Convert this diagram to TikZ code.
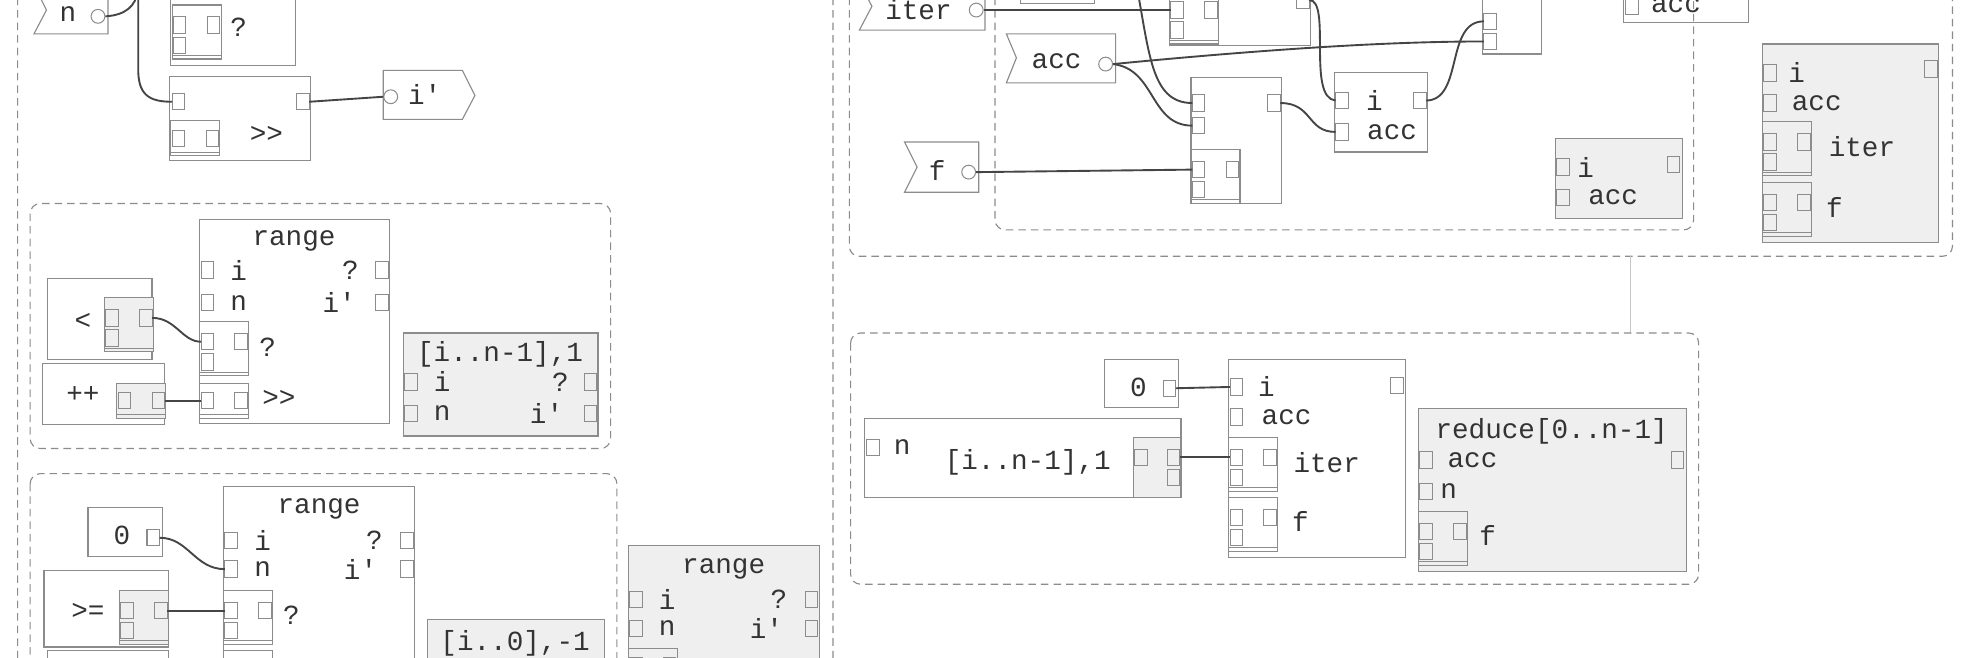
\documentclass[tikz,border=0pt]{standalone}
\usepackage{fontspec}
\setmainfont{Liberation Mono}[Ligatures=TeXOff]
\definecolor{boxc}{HTML}{8C8C8C}
\definecolor{gfill}{HTML}{EFEFEF}
\definecolor{txt}{HTML}{333333}
\definecolor{wirec}{HTML}{454545}
\newcommand\sbx[4][]{\begin{scope}[shift={(#3,#4)}]\draw[box,#1] (0,0) rectangle (39,43);\draw[boxc,line width=0.6pt] (0,40)--(39,40);\node[port] (#2a) at (6,16) {};\node[port] (#2b) at (6,32) {};\node[port] (#2c) at (33,16) {};\end{scope}}
\newcommand\sbxb[4][]{\begin{scope}[shift={(#3,#4)}]\draw[box,#1] (0,0) rectangle (39,28);\draw[boxc,line width=0.6pt] (0,25)--(39,25);\node[port] (#2a) at (6,14) {};\node[port] (#2c) at (33,14) {};\end{scope}}
\begin{document}
\begin{tikzpicture}[x=1pt,y=-1pt,font=\fontsize{22}{24}\selectfont,
 every node/.style={text=txt,inner sep=0pt},
 box/.style={draw=boxc,line width=0.9pt},
 gbox/.style={draw=boxc,fill=gfill,line width=0.9pt},
 cont/.style={draw=boxc,dash pattern=on 6pt off 4pt,rounded corners=8pt,line width=0.9pt},
 port/.style={draw=boxc,line width=0.8pt,minimum width=10pt,minimum height=13pt,inner sep=0pt,outer sep=0pt},
 circ/.style={draw=boxc,circle,minimum size=11pt,inner sep=0pt,fill=white,line width=0.8pt},
 wire/.style={draw=wirec,line width=1.5pt}]
\useasboundingbox (0,0) rectangle (1568,523);
\fill[white] (0,0) rectangle (1568,523);
% ---------- left panel ----------
\draw[cont] (14,-30) rectangle (663,560);
\draw[box,fill=white] (27,-12)--(86,-12)--(86,27)--(27,27)--(37,8)--cycle;
\node at (54,11) {n};
\node[circ] (ncirc) at (78,13) {};
\draw[box] (136,-20) rectangle (235,52);
\sbx{qa}{137}{4}
\node at (190,22) {?};
\draw[box] (135,61) rectangle (247,128);
\node[port] (shl) at (142,81) {};
\node[port] (shr) at (241,81) {};
\sbxb{sa}{136}{96}
\node at (212,107) {>>};
\draw[box,fill=white] (305,56)--(368,56)--(378,76)--(368,95)--(305,95)--cycle;
\node[circ] (ipcirc) at (311,77) {};
\node at (338,75) {i'};
\coordinate (njn) at (110,-8);
\draw[wire] (ncirc.east) .. controls (100,12) and (108,5) .. (njn);
\draw[wire] (njn) -- (110,55) .. controls (110,75) and (118,81) .. (shl.west);
\draw[wire] (shr.east) -- (ipcirc.west);
% container 2
\draw[cont] (24,162) rectangle (486,357);
\draw[box] (38,222) rectangle (121,286);
\node at (66,256) {<};
\sbx[fill=gfill]{lt}{83}{237}
\draw[box] (34,289) rectangle (131,338);
\node at (66,314) {++};
\sbxb[fill=gfill]{pp}{93}{305}
\draw[box] (159,175) rectangle (310,337);
\node at (234,192) {range};
\node[port] (r1i) at (165,215) {}; \node[port] (r1q) at (304,215) {};
\node[port] (r1n) at (165,241) {}; \node[port] (r1p) at (304,241) {};
\node at (190,215) {i}; \node at (190,241) {n};
\node at (279,215) {?}; \node at (270,241) {i'};
\sbx{r1s}{159}{256}
\node at (213,276) {?};
\sbxb{r1t}{159}{305}
\node at (222,317) {>>};
\draw[wire] (ltc.east) .. controls (140,253) and (145,272) .. (r1sa.west);
\draw[wire] (ppc.east) -- (r1ta.west);
\draw[gbox] (321,265) rectangle (476,347);
\node at (398,282) {[i..n-1],1};
\node[port] (g1i) at (327,304) {}; \node[port] (g1q) at (470,304) {};
\node[port] (g1n) at (327,329) {}; \node[port] (g1p) at (470,329) {};
\node at (352,304) {i}; \node at (352,329) {n};
\node at (446,304) {?}; \node at (435,329) {i'};
% container 3
\draw[cont] (24,377) rectangle (491,560);
\draw[box] (70,404) rectangle (129,443);
\node at (97,426) {0};
\node[port] (zp) at (122,428) {};
\draw[box] (178,387) rectangle (330,560);
\node at (254,405) {range};
\node[port] (r2i) at (184,430) {}; \node[port] (r2q) at (324,430) {};
\node[port] (r2n) at (184,453) {}; \node[port] (r2p) at (324,453) {};
\node at (209,430) {i}; \node at (209,453) {n};
\node at (298,430) {?}; \node at (287,453) {i'};
\draw[wire] (zp.east) .. controls (150,428) and (155,453) .. (r2n.west);
\draw[box] (35,454) rectangle (134,515);
\node at (70,487) {>=};
\sbx[fill=gfill]{ge}{95}{470}
\sbx{r2s}{178}{470}
\node at (232,490) {?};
\draw[wire] (gec.east) -- (r2sa.west);
\draw[box] (38,518) rectangle (134,560);
\sbxb{r2t}{178}{518}
\draw[gbox] (340,493) rectangle (481,560);
\node at (410,512) {[i..0],-1};
\draw[gbox] (500,434) rectangle (652,560);
\node at (576,453) {range};
\node[port] (g2i) at (506,477) {}; \node[port] (g2q) at (646,477) {};
\node[port] (g2n) at (506,500) {}; \node[port] (g2p) at (646,500) {};
\node at (531,477) {i}; \node at (531,500) {n};
\node at (620,477) {?}; \node at (610,500) {i'};
\sbxb{g2s}{500}{516}
% ---------- right panel ----------
\draw[cont] (676,-30) rectangle (1554,204);
\draw[cont] (792,-30) rectangle (1348,183);
\draw[box,fill=white] (684,-14)--(784,-14)--(784,24)--(684,24)--(694,5)--cycle;
\node at (731,8) {iter};
\node[circ] (itcirc) at (777,8) {};
\draw[box] (812,-20) rectangle (871,3);
\draw[box] (931,-20) rectangle (1043,36);
\sbx{b1s}{931}{-8}
\node[port] (b1r) at (1037,0) {};
\draw[wire] (itcirc.east) -- (b1sa.west);
\draw[box] (1180,-20) rectangle (1227,43);
\node[port] (tr1) at (1186,17) {};
\node[port] (tr2) at (1186,33) {};
\draw[box,fill=white] (801,27)--(888,27)--(888,66)--(801,66)--(809,46)--cycle;
\node at (841,49) {acc};
\node[circ] (accirc) at (880,51) {};
\draw[box,fill=white] (720,113)--(779,113)--(779,153)--(720,153)--(730,133)--cycle;
\node at (746,136) {f};
\node[circ] (fcirc) at (771,137) {};
\draw[box] (948,62) rectangle (1020,162);
\node[port] (m1) at (954,82) {};
\node[port] (m2) at (954,100) {};
\node[port] (m3) at (1014,82) {};
\sbx{ms}{948}{119}
\draw[box] (1062,58) rectangle (1136,121);
\node[port] (ia1) at (1068,80) {};
\node[port] (ia2) at (1068,105) {};
\node[port] (ia3) at (1130,80) {};
\node at (1094,80) {i}; \node at (1108,105) {acc};
\coordinate (wtop) at (903,-20);
\draw[wire] (wtop) .. controls (915,40) and (915,82) .. (m1.west);
\draw[wire] (accirc.east) .. controls (920,55) and (915,100) .. (m2.west);
\draw[wire] (accirc.east) .. controls (1000,40) and (1100,33) .. (tr2.west);
\draw[wire] (fcirc.east) -- (msa.west);
\draw[wire] (m3.east) .. controls (1045,82) and (1040,105) .. (ia2.west);
\draw[wire] (b1r.east) .. controls (1060,0) and (1040,78) .. (ia1.west);
\draw[wire] (ia3.east) .. controls (1165,80) and (1150,17) .. (tr1.west);
\draw[gbox] (1238,110) rectangle (1339,174);
\node[port] (ga1) at (1244,133) {}; \node[port] (ga2) at (1244,157) {};
\node[port] (ga3) at (1332,131) {};
\node at (1262,133) {i}; \node at (1284,157) {acc};
\draw[box] (1292,-20) rectangle (1392,18);
\node[port] (acp) at (1299,5) {};
\node at (1334,4) {acc};
\draw[gbox] (1403,35) rectangle (1543,193);
\node[port] (gb1) at (1409,58) {}; \node[port] (gb2) at (1537,55) {};
\node[port] (gb3) at (1409,82) {};
\node at (1430,58) {i}; \node at (1446,82) {acc};
\sbx{gbs1}{1403}{97}
\node at (1482,117) {iter};
\sbx{gbs2}{1403}{145}
\node at (1460,165) {f};
\draw[boxc!50,line width=0.7pt] (1298,204) -- (1298,265);
% lower container
\draw[cont] (677,265) rectangle (1352,465);
\draw[box] (879,286) rectangle (938,324);
\node at (906,308) {0};
\node[port] (z2) at (931,309) {};
\draw[box] (978,286) rectangle (1119,444);
\node[port] (mi) at (984,308) {}; \node[port] (mo) at (1112,307) {};
\node[port] (ma) at (984,332) {};
\node at (1008,308) {i}; \node at (1024,332) {acc};
\sbx{mis}{978}{348}
\node at (1056,368) {iter};
\sbx{mfs}{978}{396}
\node at (1035,415) {f};
\draw[box] (688,333) rectangle (940,396);
\node[port] (nn) at (695,356) {};
\node at (718,356) {n};
\node at (818,368) {[i..n-1],1};
\draw[gbox] (902,348) rectangle (940,396);
\node[port] (nsa) at (908,364) {}; \node[port] (nsc) at (934,364) {}; \node[port] (nsb) at (934,380) {};
\draw[wire] (z2.east) -- (mi.west);
\draw[wire] (nsc.east) -- (misa.west);
\draw[gbox] (1129,325) rectangle (1342,455);
\node at (1235,343) {reduce[0..n-1]};
\node[port] (ra) at (1135,366) {}; \node[port] (ro) at (1335,366) {};
\node[port] (rn) at (1135,391) {};
\node at (1172,366) {acc}; \node at (1153,391) {n};
\sbx{rfs}{1129}{407}
\node at (1184,426) {f};
\end{tikzpicture}
\end{document}
